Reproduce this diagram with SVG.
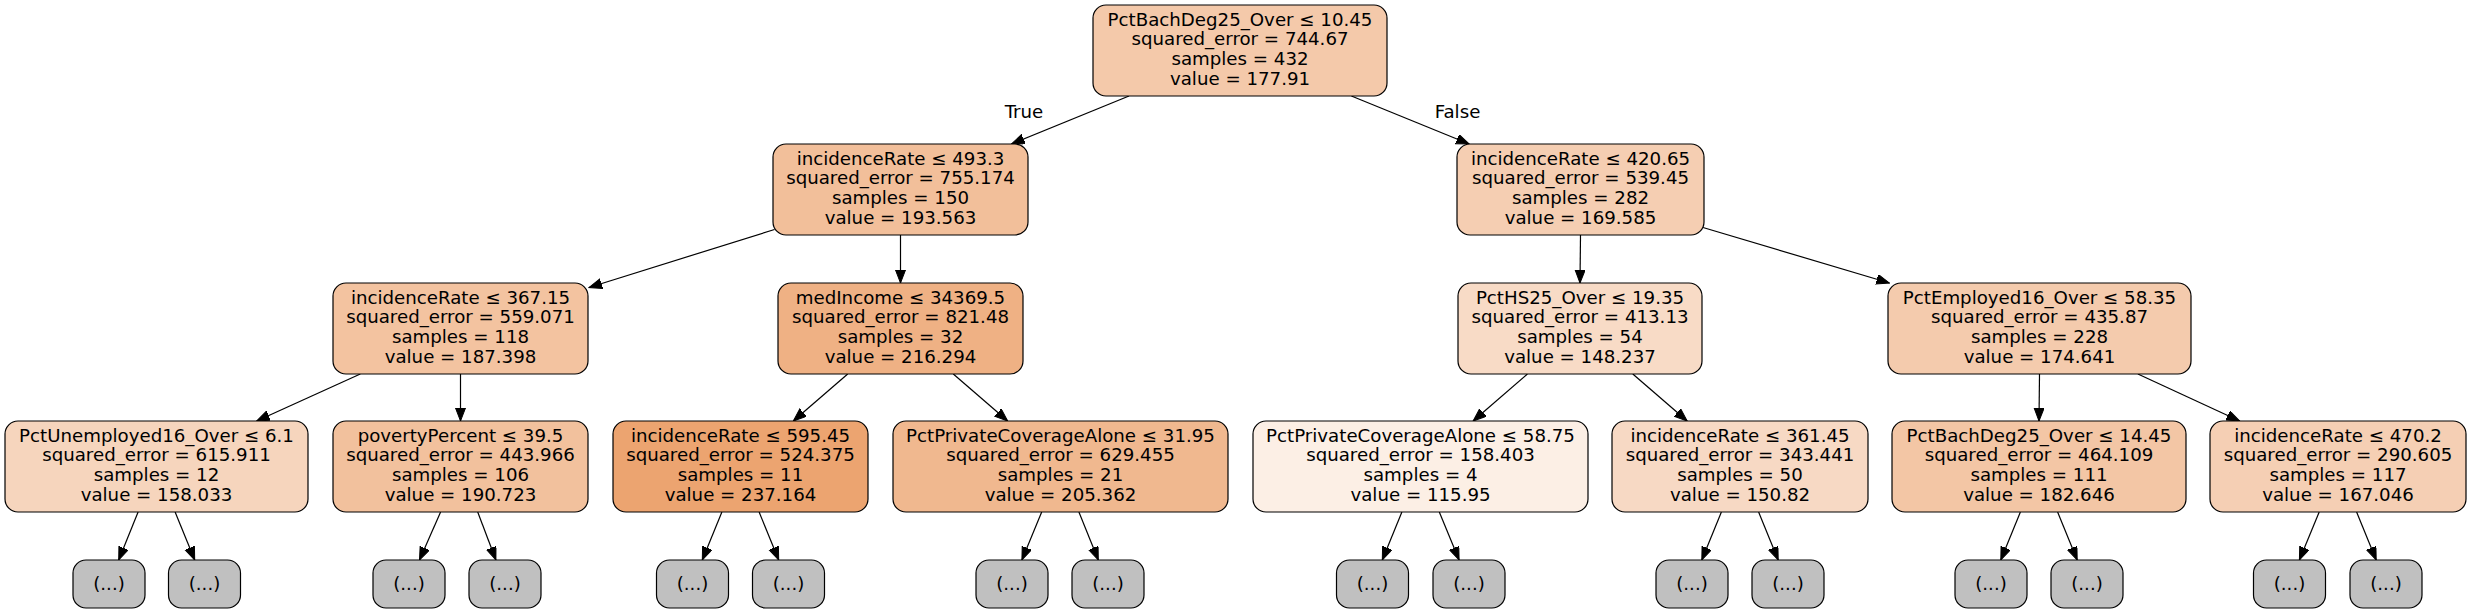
<svg xmlns="http://www.w3.org/2000/svg" width="2471" height="613" viewBox="0 0 2471 613">
<style>
.n rect{stroke:#000;stroke-width:1.2}
.lf rect{fill:#c0c0c0;stroke:#000;stroke-width:1.2}
text{font-family:"DejaVu Sans","Liberation Sans",sans-serif;font-size:18.2px;fill:#000;text-anchor:middle}
.e path{stroke:#000;stroke-width:1.2;fill:none;marker-end:url(#ah)}
</style>
<defs>
<marker id="ah" markerUnits="userSpaceOnUse" markerWidth="14" markerHeight="11" refX="13" refY="5" orient="auto"><path d="M0,0 L13,5 L0,10 z" fill="#000" stroke="#000" stroke-width="1"/></marker>
</defs>
<rect width="2471" height="613" fill="#fff"/>
<g id="edges" class="e">
<path d="M1129,96 L1011.5,144"/>
<path d="M1351.4,96 L1469.2,144"/>
<path d="M774.5,229.5 L589,287.5"/>
<path d="M900.5,235 L900.5,283"/>
<path d="M1580.5,235 L1580,283"/>
<path d="M1703,227.5 L1889.4,283"/>
<path d="M360.3,374 L256.7,421"/>
<path d="M460.5,374 L460.5,421"/>
<path d="M847.7,374 L793.3,421"/>
<path d="M953.3,374 L1007.7,421"/>
<path d="M1527.4,374 L1473.1,421"/>
<path d="M1632.8,374 L1687.2,421"/>
<path d="M2039.5,374 L2039,421"/>
<path d="M2137.9,374 L2239.6,421"/>
<path d="M138.1,512 L118.7,560"/>
<path d="M175.1,512 L194.7,560"/>
<path d="M440.6,512 L419.5,560"/>
<path d="M477.7,512 L495.9,560"/>
<path d="M721.9,512 L702.3,560"/>
<path d="M759.1,512 L778.7,560"/>
<path d="M1041.7,512 L1021.9,560"/>
<path d="M1078.9,512 L1098.3,560"/>
<path d="M1401.9,512 L1382.3,560"/>
<path d="M1439.3,512 L1459.1,560"/>
<path d="M1721.4,512 L1701.8,560"/>
<path d="M1758.6,512 L1778.2,560"/>
<path d="M2020.4,512 L2000.8,560"/>
<path d="M2057.6,512 L2077.2,560"/>
<path d="M2319.2,512 L2299.4,560"/>
<path d="M2356.6,512 L2376.2,560"/>
<text x="1024" y="118">True</text>
<text x="1457.5" y="118">False</text>
</g>
<g id="n0" class="n"><rect x="1093" y="5" width="294" height="91" rx="13" fill="#f4c9aa"/>
<text x="1240" y="25.5">PctBachDeg25_Over ≤ 10.45</text><text x="1240" y="45.2">squared_error = 744.67</text><text x="1240" y="64.9">samples = 432</text><text x="1240" y="84.6">value = 177.91</text></g>
<g id="n1" class="n"><rect x="773" y="144" width="255" height="91" rx="13" fill="#f2bf9a"/>
<text x="900.5" y="164.5">incidenceRate ≤ 493.3</text><text x="900.5" y="184.2">squared_error = 755.174</text><text x="900.5" y="203.9">samples = 150</text><text x="900.5" y="223.6">value = 193.563</text></g>
<g id="n2" class="n"><rect x="1457" y="144" width="247" height="91" rx="13" fill="#f5ceb2"/>
<text x="1580.5" y="164.5">incidenceRate ≤ 420.65</text><text x="1580.5" y="184.2">squared_error = 539.45</text><text x="1580.5" y="203.9">samples = 282</text><text x="1580.5" y="223.6">value = 169.585</text></g>
<g id="n3" class="n"><rect x="333" y="283" width="255" height="91" rx="13" fill="#f3c3a0"/>
<text x="460.5" y="303.5">incidenceRate ≤ 367.15</text><text x="460.5" y="323.2">squared_error = 559.071</text><text x="460.5" y="342.9">samples = 118</text><text x="460.5" y="362.6">value = 187.398</text></g>
<g id="n4" class="n"><rect x="778" y="283" width="245" height="91" rx="13" fill="#efb184"/>
<text x="900.5" y="303.5">medIncome ≤ 34369.5</text><text x="900.5" y="323.2">squared_error = 821.48</text><text x="900.5" y="342.9">samples = 32</text><text x="900.5" y="362.6">value = 216.294</text></g>
<g id="n5" class="n"><rect x="1458" y="283" width="244" height="91" rx="13" fill="#f8dbc6"/>
<text x="1580" y="303.5">PctHS25_Over ≤ 19.35</text><text x="1580" y="323.2">squared_error = 413.13</text><text x="1580" y="342.9">samples = 54</text><text x="1580" y="362.6">value = 148.237</text></g>
<g id="n6" class="n"><rect x="1888" y="283" width="303" height="91" rx="13" fill="#f4cbad"/>
<text x="2039.5" y="303.5">PctEmployed16_Over ≤ 58.35</text><text x="2039.5" y="323.2">squared_error = 435.87</text><text x="2039.5" y="342.9">samples = 228</text><text x="2039.5" y="362.6">value = 174.641</text></g>
<g id="n7" class="n"><rect x="5" y="421" width="303" height="91" rx="13" fill="#f6d5bd"/>
<text x="156.5" y="441.5">PctUnemployed16_Over ≤ 6.1</text><text x="156.5" y="461.2">squared_error = 615.911</text><text x="156.5" y="480.9">samples = 12</text><text x="156.5" y="500.6">value = 158.033</text></g>
<g id="n8" class="n"><rect x="333" y="421" width="255" height="91" rx="13" fill="#f2c19d"/>
<text x="460.5" y="441.5">povertyPercent ≤ 39.5</text><text x="460.5" y="461.2">squared_error = 443.966</text><text x="460.5" y="480.9">samples = 106</text><text x="460.5" y="500.6">value = 190.723</text></g>
<g id="n9" class="n"><rect x="613" y="421" width="255" height="91" rx="13" fill="#eca470"/>
<text x="740.5" y="441.5">incidenceRate ≤ 595.45</text><text x="740.5" y="461.2">squared_error = 524.375</text><text x="740.5" y="480.9">samples = 11</text><text x="740.5" y="500.6">value = 237.164</text></g>
<g id="n10" class="n"><rect x="893" y="421" width="335" height="91" rx="13" fill="#f0b88f"/>
<text x="1060.5" y="441.5">PctPrivateCoverageAlone ≤ 31.95</text><text x="1060.5" y="461.2">squared_error = 629.455</text><text x="1060.5" y="480.9">samples = 21</text><text x="1060.5" y="500.6">value = 205.362</text></g>
<g id="n11" class="n"><rect x="1253" y="421" width="335" height="91" rx="13" fill="#fcefe5"/>
<text x="1420.5" y="441.5">PctPrivateCoverageAlone ≤ 58.75</text><text x="1420.5" y="461.2">squared_error = 158.403</text><text x="1420.5" y="480.9">samples = 4</text><text x="1420.5" y="500.6">value = 115.95</text></g>
<g id="n12" class="n"><rect x="1612" y="421" width="256" height="91" rx="13" fill="#f7d9c4"/>
<text x="1740" y="441.5">incidenceRate ≤ 361.45</text><text x="1740" y="461.2">squared_error = 343.441</text><text x="1740" y="480.9">samples = 50</text><text x="1740" y="500.6">value = 150.82</text></g>
<g id="n13" class="n"><rect x="1892" y="421" width="294" height="91" rx="13" fill="#f3c6a5"/>
<text x="2039" y="441.5">PctBachDeg25_Over ≤ 14.45</text><text x="2039" y="461.2">squared_error = 464.109</text><text x="2039" y="480.9">samples = 111</text><text x="2039" y="500.6">value = 182.646</text></g>
<g id="n14" class="n"><rect x="2210" y="421" width="256" height="91" rx="13" fill="#f5cfb4"/>
<text x="2338" y="441.5">incidenceRate ≤ 470.2</text><text x="2338" y="461.2">squared_error = 290.605</text><text x="2338" y="480.9">samples = 117</text><text x="2338" y="500.6">value = 167.046</text></g>
<g id="l1" class="lf"><rect x="73" y="560" width="72" height="48" rx="13"/><text x="109" y="589.5">(...)</text></g>
<g id="l2" class="lf"><rect x="168.5" y="560" width="72" height="48" rx="13"/><text x="204.5" y="589.5">(...)</text></g>
<g id="l3" class="lf"><rect x="373" y="560" width="72" height="48" rx="13"/><text x="409" y="589.5">(...)</text></g>
<g id="l4" class="lf"><rect x="469" y="560" width="72" height="48" rx="13"/><text x="505" y="589.5">(...)</text></g>
<g id="l5" class="lf"><rect x="656.5" y="560" width="72" height="48" rx="13"/><text x="692.5" y="589.5">(...)</text></g>
<g id="l6" class="lf"><rect x="752.5" y="560" width="72" height="48" rx="13"/><text x="788.5" y="589.5">(...)</text></g>
<g id="l7" class="lf"><rect x="976" y="560" width="72" height="48" rx="13"/><text x="1012" y="589.5">(...)</text></g>
<g id="l8" class="lf"><rect x="1072" y="560" width="72" height="48" rx="13"/><text x="1108" y="589.5">(...)</text></g>
<g id="l9" class="lf"><rect x="1336.5" y="560" width="72" height="48" rx="13"/><text x="1372.5" y="589.5">(...)</text></g>
<g id="l10" class="lf"><rect x="1433" y="560" width="72" height="48" rx="13"/><text x="1469" y="589.5">(...)</text></g>
<g id="l11" class="lf"><rect x="1656" y="560" width="72" height="48" rx="13"/><text x="1692" y="589.5">(...)</text></g>
<g id="l12" class="lf"><rect x="1752" y="560" width="72" height="48" rx="13"/><text x="1788" y="589.5">(...)</text></g>
<g id="l13" class="lf"><rect x="1955" y="560" width="72" height="48" rx="13"/><text x="1991" y="589.5">(...)</text></g>
<g id="l14" class="lf"><rect x="2051" y="560" width="72" height="48" rx="13"/><text x="2087" y="589.5">(...)</text></g>
<g id="l15" class="lf"><rect x="2253.5" y="560" width="72" height="48" rx="13"/><text x="2289.5" y="589.5">(...)</text></g>
<g id="l16" class="lf"><rect x="2350" y="560" width="72" height="48" rx="13"/><text x="2386" y="589.5">(...)</text></g>
</svg>
